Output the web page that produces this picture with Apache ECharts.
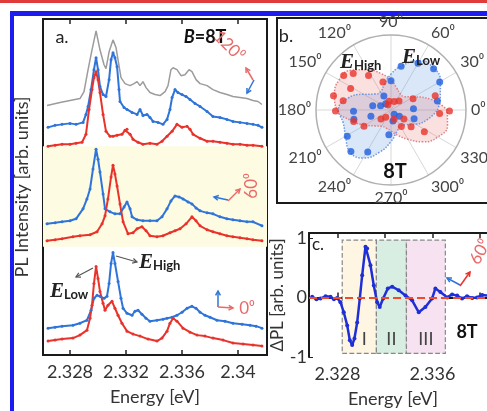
<!DOCTYPE html>
<html>
<head>
<meta charset="utf-8">
<script src="https://cdn.jsdelivr.net/npm/echarts@6/dist/echarts.min.js"></script>
<style>
html, body { margin: 0; padding: 0; background: #fff; }
#chart { width: 487px; height: 411px; }
</style>
</head>
<body>
<div id="chart"></div>
<script>
// ---- panel a: PL spectra, [energy eV, intensity arb.] (offset already in the values)
var grayTop = [[2.32636,251],[2.32729,254],[2.328,256],[2.32871,258],[2.329,265],[2.32929,287],[2.32957,307],[2.32986,326],[2.33014,307],[2.33043,292],[2.33057,288],[2.33079,305],[2.33107,317],[2.33129,309],[2.33143,297],[2.33164,279],[2.33193,273],[2.33229,271],[2.33257,273],[2.33279,275],[2.333,271],[2.33321,275],[2.33343,269],[2.33371,264],[2.33407,262],[2.33443,261],[2.33479,265],[2.335,271],[2.33521,287],[2.33536,289],[2.33564,287],[2.33593,281],[2.33621,282],[2.3365,287],[2.33671,285],[2.337,277],[2.33729,273],[2.33779,271],[2.33821,267],[2.33871,264],[2.33921,262],[2.33964,260],[2.34014,259],[2.34064,258],[2.34107,256],[2.34143,255],[2.34171,252]];
var blueTop = [[2.32643,229],[2.32693,231],[2.32743,232],[2.328,233],[2.32843,232],[2.32893,234],[2.32914,242],[2.32929,250],[2.3295,267],[2.32971,287],[2.32986,299],[2.33,287],[2.33014,270],[2.33036,262],[2.33057,260],[2.33079,277],[2.33093,297],[2.33107,304],[2.33121,299],[2.33136,290],[2.3315,267],[2.33157,255],[2.33186,249],[2.33207,247],[2.33243,244],[2.33279,242],[2.333,247],[2.33321,241],[2.3335,242],[2.33371,239],[2.33393,235],[2.33429,234],[2.33464,232],[2.33493,237],[2.33514,247],[2.33529,259],[2.3355,267],[2.33571,264],[2.336,262],[2.33629,260],[2.33657,257],[2.33693,253],[2.33729,250],[2.33779,245],[2.33821,240],[2.33871,239],[2.33921,237],[2.33964,235],[2.34014,234],[2.34064,233],[2.34107,232],[2.34143,231],[2.34171,229]];
var redTop = [[2.32643,210],[2.32693,211],[2.32743,212],[2.328,212],[2.32843,213],[2.32886,214],[2.32914,222],[2.32936,247],[2.32957,267],[2.32971,279],[2.32986,285],[2.33,277],[2.33014,264],[2.33036,242],[2.33057,225],[2.33086,220],[2.33107,220],[2.33136,221],[2.33171,222],[2.33193,226],[2.33207,227],[2.33229,222],[2.3325,217],[2.33286,214],[2.33321,212],[2.33371,213],[2.33421,212],[2.33457,215],[2.33493,220],[2.33529,225],[2.33564,232],[2.336,229],[2.33636,230],[2.33657,227],[2.33679,222],[2.33729,218],[2.33779,215],[2.33821,215],[2.33871,214],[2.33921,213],[2.33964,212],[2.34014,212],[2.34064,211],[2.34107,211],[2.34171,210]];
var blueMid = [[2.32636,132],[2.32693,133],[2.32743,134],[2.328,135],[2.32843,137],[2.32893,147],[2.32921,157],[2.32943,167],[2.32964,187],[2.32986,207],[2.33,197],[2.33014,184],[2.33036,162],[2.3305,147],[2.33086,144],[2.33121,142],[2.33157,142],[2.33186,149],[2.33207,154],[2.33229,147],[2.33243,139],[2.33279,136],[2.33321,135],[2.33371,135],[2.33421,135],[2.33457,139],[2.33493,147],[2.33521,155],[2.3355,160],[2.33579,159],[2.33607,157],[2.33643,154],[2.33671,152],[2.337,148],[2.33729,145],[2.33779,143],[2.33821,142],[2.33871,139],[2.33921,137],[2.33964,136],[2.34014,135],[2.34064,134],[2.34107,134],[2.34171,130]];
var redMid = [[2.32636,115],[2.32693,116],[2.32743,117],[2.32821,119],[2.32871,120],[2.32943,121],[2.32993,124],[2.33029,132],[2.3305,140],[2.33071,157],[2.33093,179],[2.33107,191],[2.33121,182],[2.33136,170],[2.33157,152],[2.33179,134],[2.33214,122],[2.3325,123],[2.33279,127],[2.33314,129],[2.33343,125],[2.33371,120],[2.33421,119],[2.33464,120],[2.33514,123],[2.3355,125],[2.33586,127],[2.33629,132],[2.33671,139],[2.337,135],[2.33729,130],[2.33779,126],[2.33821,124],[2.33871,122],[2.33921,120],[2.33964,119],[2.34014,118],[2.34064,117],[2.34107,116],[2.34171,115]];
var blueBot = [[2.32643,27],[2.32693,28],[2.32743,29],[2.32821,30],[2.32871,32],[2.32921,35],[2.3295,45],[2.32971,57],[2.32993,60],[2.33014,59],[2.33043,57],[2.33064,59],[2.33079,72],[2.33093,92],[2.33107,103],[2.33121,92],[2.33143,74],[2.33164,57],[2.33179,47],[2.33207,42],[2.33243,40],[2.33264,44],[2.33286,45],[2.33314,41],[2.33343,37],[2.33371,34],[2.33421,35],[2.33464,36],[2.33493,37],[2.33529,38],[2.33564,40],[2.336,43],[2.33636,47],[2.33671,49],[2.337,47],[2.33729,43],[2.33764,40],[2.338,38],[2.3385,35],[2.33907,34],[2.33964,32],[2.34029,31],[2.34086,30],[2.34129,29],[2.34171,27]];
var redBot = [[2.32643,14],[2.32693,15],[2.32743,16],[2.32821,17],[2.32871,20],[2.32921,25],[2.32943,37],[2.32957,50],[2.32971,72],[2.32986,89],[2.33,77],[2.33014,64],[2.33036,52],[2.3305,45],[2.33071,50],[2.331,54],[2.33121,47],[2.33143,40],[2.33171,32],[2.33207,24],[2.3325,21],[2.333,19],[2.33357,16],[2.33421,14],[2.33457,17],[2.33493,24],[2.33514,32],[2.33536,37],[2.33564,34],[2.33607,27],[2.33657,23],[2.33707,20],[2.33764,19],[2.33821,17],[2.33893,15],[2.33964,12],[2.34036,11],[2.34107,10],[2.34171,9]];
var band60 = [109, 210];
var tickA = [2.328, 2.332, 2.336, 2.34];

// ---- panel b: polar intensities [r, angle deg]
var redPolar = [[0.78,144],[0.70,136],[0.55,123],[0.39,106],[0.61,152],[0.79,166],[0.65,169],[0.74,181],[0.52,197],[0.42,211],[0.18,222],[0.12,234],[0.12,102],[0.12,69],[0.16,48],[0.33,27],[0.08,121],[0.26,302],[0.35,320],[0.53,327],[0.62,18],[0.78,359],[0.65,356],[0.13,288],[0.21,325]];
var bluePolar = [[0.60,77],[0.72,60],[0.79,44],[0.39,90],[0.75,30],[0.63,11],[0.21,117],[0.25,167],[0.15,158],[0.11,130],[0.50,182],[0.51,194],[0.28,197],[0.07,307],[0.14,323],[0.33,339],[0.68,211],[0.77,226],[0.64,241],[0.33,265],[0.15,280],[0.30,3]];
var fitAngles = [0,15,30,45,60,75,90,105,120,135,150,165,180,195,210,225,240,255,270,285,300,315,330,345,360];
var blueFitR = [0.62,0.68,0.76,0.80,0.76,0.62,0.48,0.35,0.28,0.30,0.42,0.60,0.70,0.66,0.70,0.78,0.74,0.58,0.42,0.30,0.25,0.28,0.38,0.50,0.62];
var redFitR = [0.75,0.55,0.35,0.25,0.25,0.30,0.40,0.50,0.62,0.75,0.80,0.78,0.72,0.55,0.40,0.30,0.25,0.25,0.28,0.35,0.45,0.60,0.72,0.78,0.75];

// ---- panel c: difference spectrum
var dPL = [[2.32587,0.01],[2.32622,-0.03],[2.32657,-0.02],[2.327,0.02],[2.32741,0.01],[2.3277,-0.03],[2.32797,-0.01],[2.32825,-0.08],[2.32853,-0.25],[2.32882,-0.47],[2.32904,-0.72],[2.32924,-0.80],[2.32943,-0.69],[2.32966,-0.42],[2.32988,-0.02],[2.33008,0.37],[2.33036,0.85],[2.3305,0.82],[2.33078,0.54],[2.33106,0.20],[2.33134,-0.08],[2.33156,-0.16],[2.33185,-0.02],[2.33224,0.15],[2.33261,0.18],[2.33316,0.12],[2.33373,0.03],[2.33429,-0.05],[2.33485,-0.25],[2.33541,-0.16],[2.33597,-0.02],[2.33625,0.15],[2.33667,0.09],[2.33724,0.0],[2.33766,0.05],[2.33808,0.03],[2.3385,-0.02],[2.33892,0.02],[2.33935,-0.01],[2.33976,0.0],[2.34019,0.04],[2.34061,0.03]];
var regions = [['I', 2.3284, 2.33128, '#fef5e2'], ['II', 2.33128, 2.33381, '#d8eee2'], ['III', 2.33381, 2.33709, '#f6e2f0']];
var tickC = [2.328, 2.332, 2.336, 2.34];
var labC = [2.328, 2.336];

var FONT = 'Lato, "Open Sans", sans-serif';
var BLUE = '#2f74d8', RED = '#e8332b';

function fmtE(v) { return v.toFixed(3).replace(/0$/, ''); }
function toPolar(rs) { return rs.map(function (r, i) { return [r, fitAngles[i]]; }); }

function arrow(x1, y1, x2, y2, c, w) {
    var a = Math.atan2(y2 - y1, x2 - x1), h = 5;
    return [
        {type: 'line', z: 100, shape: {x1: x1, y1: y1, x2: x2, y2: y2}, style: {stroke: c, lineWidth: w}},
        {type: 'polyline', z: 100, shape: {points: [[x2 - h * Math.cos(a - 0.5), y2 - h * Math.sin(a - 0.5)], [x2, y2], [x2 - h * Math.cos(a + 0.5), y2 - h * Math.sin(a + 0.5)]]},
            style: {stroke: c, lineWidth: w, fill: null}}
    ];
}
function txt(s, x, y, size, color, opts) {
    opts = opts || {};
    return {type: 'text', z: 100, x: x, y: y, rotation: opts.rot || 0,
        style: {text: s, fontSize: size, fontFamily: FONT, fontWeight: opts.bold ? 'bold' : 'normal',
            fill: color, align: opts.align || 'center', verticalAlign: 'middle', rich: opts.rich}};
}
var eRich = {
    e: {fontFamily: 'Liberation Serif', fontStyle: 'italic', fontWeight: 'bold', fontSize: 21, fill: '#222'},
    s: {fontFamily: FONT, fontWeight: 'bold', fontSize: 13, fill: '#222', padding: [5, 0, 0, 0]}
};

var lineSeries = function (data, color, width, sym) {
    return {type: 'line', xAxisIndex: 0, yAxisIndex: 0, data: data, symbol: sym ? 'circle' : 'none', symbolSize: 3,
        showSymbol: !!sym, lineStyle: {color: color, width: width}, itemStyle: {color: color}, animation: false, z: 3};
};
var frameLine = {show: true, lineStyle: {color: '#1a1a1a', width: 2}};

var chart = echarts.init(document.getElementById('chart'));

var graphics = [
    {type: 'rect', shape: {x: 0, y: 0, width: 487, height: 3}, style: {fill: '#e03a3a'}},
    {type: 'rect', shape: {x: 10, y: 11, width: 477, height: 5}, style: {fill: '#1c1cf0'}},
    {type: 'rect', shape: {x: 10, y: 11, width: 4, height: 400}, style: {fill: '#1c1cf0'}},
    {type: 'rect', shape: {x: 277, y: 18, width: 220, height: 185}, style: {stroke: '#1a1a1a', lineWidth: 2, fill: null}},
    txt('a.', 62, 37, 18, '#222'),
    txt('{i|B}=8T', 205, 37, 18, '#111', {bold: true, rich: {i: {fontStyle: 'italic', fontWeight: 'bold', fontSize: 18, fontFamily: FONT}}}),
    txt('120\u2070', 229, 46, 17, '#e86a6a', {rot: -Math.PI / 4}),
    txt('60\u2070', 252, 186, 17, '#e86a6a', {rot: Math.PI / 2}),
    txt('0\u2070', 247, 309, 17, '#e86a6a'),
    txt('{e|E}{s|High}', 139, 263, 14, '#222', {align: 'left', rich: eRich}),
    txt('{e|E}{s|Low}', 50, 292, 14, '#222', {align: 'left', rich: eRich}),
    txt('b.', 286, 36, 18, '#222'),
    txt('{e|E}{s|High}', 340, 63, 14, '#222', {align: 'left', rich: eRich}),
    txt('{e|E}{s|Low}', 402, 58, 14, '#222', {align: 'left', rich: eRich}),
    txt('8T', 395, 172, 20, '#111', {bold: true}),
    txt('c.', 318, 245, 17, '#222'),
    txt('8T', 467, 332, 18, '#111', {bold: true}),
    txt('60\u2070', 480, 252, 17, '#e86a6a', {rot: Math.PI / 3})
];
graphics = graphics
    .concat(arrow(116, 256, 137, 262, '#555', 1.2))
    .concat(arrow(93, 268, 76, 277, '#555', 1.2))
    .concat(arrow(253, 80, 246, 68, '#e86a6a', 1.5))
    .concat(arrow(254, 80, 247, 93, BLUE, 1.5))
    .concat(arrow(228, 200, 214, 197, BLUE, 1.5))
    .concat(arrow(228, 201, 240, 189, '#e86a6a', 1.5))
    .concat(arrow(218, 307, 218, 291, BLUE, 1.5))
    .concat(arrow(218, 307, 233, 308, '#e86a6a', 1.5))
    .concat(arrow(460, 285, 447, 278, BLUE, 1.5))
    .concat(arrow(460, 286, 470, 272, '#e8332b', 1.5));

var option = {
    backgroundColor: '#fff',
    animation: false,
    textStyle: {fontFamily: FONT},
    grid: [
        {left: 43, top: 19, width: 224, height: 338, show: true, borderColor: '#1a1a1a', borderWidth: 2, backgroundColor: 'transparent'},
        {left: 309, top: 233, width: 178, height: 124}
    ],
    xAxis: [
        {gridIndex: 0, type: 'value', min: 2.32607, max: 2.34207, position: 'bottom',
            axisLine: {show: false}, splitLine: {show: false},
            axisTick: {inside: true, length: 5, customValues: tickA, lineStyle: {color: '#222', width: 1.5}},
            axisLabel: {customValues: tickA, formatter: fmtE, fontSize: 18, color: '#333', margin: 8},
            name: 'Energy [eV]', nameLocation: 'middle', nameGap: 33, nameTextStyle: {fontSize: 18, color: '#333'}},
        {gridIndex: 0, type: 'value', min: 2.32607, max: 2.34207, position: 'top',
            axisLine: {show: false}, splitLine: {show: false}, axisLabel: {show: false},
            axisTick: {inside: true, length: 5, customValues: tickA, lineStyle: {color: '#222', width: 1.5}}},
        {gridIndex: 1, type: 'value', min: 2.3256, max: 2.3406, position: 'bottom',
            axisLine: frameLine, splitLine: {show: false},
            axisTick: {inside: true, length: 5, customValues: tickC, lineStyle: {color: '#222', width: 1.5}},
            axisLabel: {customValues: labC, formatter: fmtE, fontSize: 18, color: '#333', margin: 8},
            name: 'Energy [eV]', nameLocation: 'middle', nameGap: 33, nameTextStyle: {fontSize: 18, color: '#333', padding: [0, 0, 0, -10]}},
        {gridIndex: 1, type: 'value', min: 2.3256, max: 2.3406, position: 'top',
            axisLine: frameLine, splitLine: {show: false}, axisLabel: {show: false},
            axisTick: {inside: true, length: 5, customValues: tickC, lineStyle: {color: '#222', width: 1.5}}}
    ],
    yAxis: [
        {gridIndex: 0, type: 'value', min: 0, max: 338, axisLine: {show: false}, axisTick: {show: false},
            axisLabel: {show: false}, splitLine: {show: false},
            name: 'PL Intensity [arb. units]', nameLocation: 'middle', nameGap: 12, nameRotate: 90,
            nameTextStyle: {fontSize: 18, color: '#333'}},
        {gridIndex: 1, type: 'value', min: -1, max: 1.08, axisLine: frameLine, splitLine: {show: false},
            axisTick: {inside: true, length: 4, customValues: [-1, 0, 1], lineStyle: {color: '#222'}},
            axisLabel: {customValues: [-1, 0, 1], fontSize: 18, color: '#333', margin: 2},
            name: '\u0394PL [arb. units]', nameLocation: 'middle', nameGap: 4, nameRotate: 90,
            nameTextStyle: {fontSize: 17, color: '#333'}}
    ],
    polar: {center: [391, 110], radius: 75},
    angleAxis: {type: 'value', min: 0, max: 360, interval: 30, startAngle: 0, clockwise: false,
        axisLine: {lineStyle: {color: '#b0b0b0', width: 1.5}}, axisTick: {show: false},
        splitLine: {show: true, lineStyle: {color: '#d8d8d8'}},
        axisLabel: {formatter: function (v) { return v === 360 ? '' : v + '\u2070'; }, fontSize: 16, color: '#444', margin: 5}},
    radiusAxis: {min: 0, max: 1, axisLine: {show: false}, axisTick: {show: false}, axisLabel: {show: false}, splitLine: {show: false}},
    series: [
        Object.assign(lineSeries(grayTop, '#9c9c9c', 1.5, false), {
            markArea: {silent: true, itemStyle: {color: '#fdfbe2'}, data: [[{yAxis: band60[0]}, {yAxis: band60[1]}]]}, z: 2}),
        lineSeries(blueTop, BLUE, 2, true),
        lineSeries(redTop, RED, 2, true),
        lineSeries(blueMid, BLUE, 2, true),
        lineSeries(redMid, RED, 2, true),
        lineSeries(blueBot, BLUE, 2, true),
        lineSeries(redBot, RED, 2, true),
        {type: 'line', coordinateSystem: 'polar', data: toPolar(blueFitR), symbol: 'none', smooth: true,
            lineStyle: {color: '#6a98e0', type: 'dotted', width: 1.5}, areaStyle: {color: 'rgba(100,155,230,0.35)'}, z: 1},
        {type: 'line', coordinateSystem: 'polar', data: toPolar(redFitR), symbol: 'none', smooth: true,
            lineStyle: {color: '#e08080', type: 'dotted', width: 1.5}, areaStyle: {color: 'rgba(235,110,110,0.3)'}, z: 1},
        {type: 'scatter', coordinateSystem: 'polar', data: bluePolar, symbolSize: 7, itemStyle: {color: '#1f5fe0'}, z: 4},
        {type: 'scatter', coordinateSystem: 'polar', data: redPolar, symbolSize: 7, itemStyle: {color: '#e8332b'}, z: 4},
        {type: 'line', xAxisIndex: 2, yAxisIndex: 1, data: dPL, symbol: 'circle', symbolSize: 4, showSymbol: true,
            lineStyle: {color: '#1f2fd6', width: 2.5}, itemStyle: {color: '#1f2fd6'}, z: 3,
            markLine: {silent: true, symbol: 'none', label: {show: false},
                lineStyle: {color: '#f04a2a', type: 'dashed', width: 2}, data: [{yAxis: 0}]},
            markArea: {silent: true,
                label: {show: true, position: 'insideBottom', distance: 6, fontSize: 18, color: '#444', fontFamily: FONT},
                data: regions.map(function (r, i) {
                    return [{name: r[0], xAxis: r[1], yAxis: -0.94,
                        label: {formatter: r[0], offset: [i === 0 ? 5 : 0, 0]},
                        itemStyle: {color: r[3], borderColor: '#888', borderWidth: 1.2, borderType: 'dashed'}},
                        {xAxis: r[2], yAxis: 0.96}];
                })}}
    ],
    graphic: graphics
};
chart.setOption(option);
</script>
</body>
</html>
